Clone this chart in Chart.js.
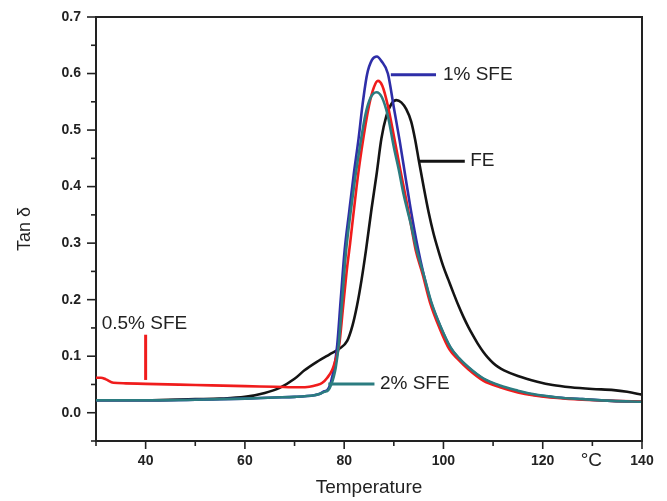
<!DOCTYPE html>
<html><head><meta charset="utf-8">
<script src="https://cdn.jsdelivr.net/npm/chart.js@4.4.1/dist/chart.umd.min.js"></script>
<style>html,body{margin:0;padding:0;background:#fff;}#wrap{width:667px;height:501px;}</style>
</head><body><div id="wrap"><canvas id="c" width="667" height="501"></canvas></div>
<script>
// ---- data (Temperature in °C, Tan δ) ----
const feTemp = [30,40,50,55,60,64,67,70,72,74.5,77,79,80.6,81.7,82.6,83.5,84.4,85.5,86.5,87.5,88.5,89.5,90.5,91.5,92.5,93.5,94.3,95,96,97,98,99,100,101,102,103,104,105,106,107,108,109,110,111,112.2,115,118.9,122,125.6,130,134.3,137,140];
const feTan  = [0.022,0.022,0.024,0.025,0.028,0.035,0.044,0.060,0.075,0.090,0.103,0.113,0.127,0.155,0.190,0.235,0.288,0.360,0.420,0.485,0.525,0.546,0.553,0.549,0.537,0.515,0.483,0.448,0.400,0.355,0.317,0.286,0.258,0.235,0.212,0.190,0.170,0.152,0.136,0.121,0.108,0.097,0.088,0.081,0.075,0.065,0.055,0.049,0.045,0.042,0.040,0.037,0.032];

const sfe05Temp = [30,31,32,33.5,36,40,50,60,66,71,73,74.5,75.6,76.6,77.6,78.3,79,79.7,80.5,81.2,82.5,83.5,85,86,86.8,87.7,88.8,90,91.3,92.2,93.3,94.4,95.8,97.3,99.2,101.2,103,105,108,111.4,115,118,123,128,134,140];
const sfe05Tan  = [0.062,0.062,0.059,0.053,0.052,0.051,0.049,0.047,0.046,0.045,0.046,0.049,0.053,0.062,0.076,0.095,0.120,0.180,0.250,0.300,0.400,0.465,0.543,0.576,0.587,0.578,0.543,0.490,0.430,0.390,0.340,0.288,0.245,0.195,0.150,0.112,0.094,0.077,0.057,0.045,0.036,0.031,0.026,0.023,0.021,0.020];

const sfe1Temp = [30,40,50,60,66,70,74,75,76,76.6,77.2,77.6,78,78.6,79.3,80.1,81,81.9,82.9,83.7,84.6,85.6,86.6,87.5,88.8,90,91.2,92.2,93.4,94.8,96,97.5,99.4,101.4,103,105,108,111.4,115,118,123,128,134,140];
const sfe1Tan  = [0.022,0.022,0.023,0.025,0.027,0.028,0.031,0.033,0.038,0.040,0.050,0.064,0.080,0.120,0.200,0.288,0.355,0.420,0.485,0.545,0.598,0.624,0.630,0.622,0.600,0.540,0.480,0.425,0.360,0.293,0.245,0.195,0.152,0.115,0.097,0.080,0.060,0.047,0.038,0.032,0.027,0.024,0.021,0.0195];

const sfe2Temp = [30,40,50,60,66,70,74,75,76,76.8,77.4,77.9,78.3,78.9,79.6,80.4,81.3,82.2,83.3,84.3,85.3,86.5,87.6,88.8,90,91,92,93.4,94.6,96,97.5,99.4,101.4,103,105,108,111.4,115,118,123,128,134,140];
const sfe2Tan  = [0.022,0.022,0.023,0.025,0.027,0.028,0.031,0.033,0.037,0.040,0.050,0.064,0.080,0.120,0.200,0.288,0.355,0.415,0.478,0.528,0.557,0.567,0.558,0.525,0.470,0.430,0.385,0.335,0.288,0.245,0.197,0.153,0.116,0.098,0.081,0.061,0.048,0.039,0.033,0.027,0.024,0.021,0.0195];

const seriesNames = ['FE','0.5% SFE','1% SFE','2% SFE'];
const xTickValues = [40,60,80,100,120,140];
const yTickValues = [0.0,0.1,0.2,0.3,0.4,0.5,0.6,0.7];

// ---- styling / annotation layout (data units) ----
const COLORS = {fe:'#141414', s05:'#f01c1c', s1:'#2e2ea8', s2:'#2b7c80'};
const notes = [
  {text:seriesNames[2], color:COLORS.s1, from:[89.4,0.598], to:[98.5,0.598], at:[99.9,0.598]},
  {text:seriesNames[0], color:COLORS.fe, from:[95.2,0.445], to:[104.3,0.445], at:[105.4,0.445]},
  {text:seriesNames[3], color:COLORS.s2, from:[76.8,0.051], to:[86.1,0.051], at:[87.2,0.051]},
  {text:seriesNames[1], color:COLORS.s05, from:[40,0.138], to:[40,0.058], at:[31.15,0.157]}
];
const FONT = '"Liberation Sans", Arial, sans-serif';
const INK = '#222';

const pts = (t, v) => t.map((x, i) => ({x, y: v[i]}));
const ds = (label, t, v, color, order) => ({
  label, data: pts(t, v), borderColor: color, backgroundColor: color,
  borderWidth: 2.6, pointRadius: 0, pointHoverRadius: 0,
  cubicInterpolationMode: 'monotone', fill: false, order
});

const decor = {
  id: 'decor',
  afterDraw(chart) {
    const {ctx, chartArea: a, scales: {x, y}} = chart;
    ctx.save();
    ctx.strokeStyle = INK; ctx.lineWidth = 2; ctx.lineCap = 'butt';
    // frame top & right
    ctx.beginPath();
    ctx.moveTo(a.left - 1, a.top); ctx.lineTo(a.right, a.top); ctx.lineTo(a.right, a.bottom + 1);
    ctx.stroke();
    // ticks
    ctx.lineWidth = 1.6;
    x.ticks.forEach(t => {
      const px = x.getPixelForValue(t.value);
      const major = xTickValues.includes(t.value);
      ctx.beginPath(); ctx.moveTo(px, a.bottom); ctx.lineTo(px, a.bottom + (major ? 8 : 5)); ctx.stroke();
    });
    y.ticks.forEach(t => {
      const py = y.getPixelForValue(t.value);
      const major = yTickValues.some(v => Math.abs(v - t.value) < 1e-6);
      ctx.beginPath(); ctx.moveTo(a.left, py); ctx.lineTo(a.left - (major ? 9 : 5), py); ctx.stroke();
    });
    // °C unit label in tick row
    ctx.fillStyle = INK; ctx.font = '19px ' + FONT;
    ctx.textAlign = 'center'; ctx.textBaseline = 'middle';
    ctx.fillText('°C', x.getPixelForValue(129.8), a.bottom + 20);
    // annotations
    notes.forEach(n => {
      ctx.strokeStyle = n.color; ctx.lineWidth = 3;
      ctx.beginPath();
      ctx.moveTo(x.getPixelForValue(n.from[0]), y.getPixelForValue(n.from[1]));
      ctx.lineTo(x.getPixelForValue(n.to[0]), y.getPixelForValue(n.to[1]));
      ctx.stroke();
      ctx.fillStyle = INK; ctx.font = '19px ' + FONT;
      ctx.textAlign = 'left'; ctx.textBaseline = 'middle';
      ctx.fillText(n.text, x.getPixelForValue(n.at[0]), y.getPixelForValue(n.at[1]));
    });
    ctx.restore();
  }
};

new Chart(document.getElementById('c'), {
  type: 'line',
  data: {
    datasets: [
      ds(seriesNames[0], feTemp, feTan, COLORS.fe, 3),
      ds(seriesNames[2], sfe1Temp, sfe1Tan, COLORS.s1, 2),
      ds(seriesNames[1], sfe05Temp, sfe05Tan, COLORS.s05, 1),
      ds(seriesNames[3], sfe2Temp, sfe2Tan, COLORS.s2, 0)
    ]
  },
  options: {
    responsive: false, animation: false, devicePixelRatio: 1,
    layout: {padding: {top: 17, right: 25, left: 0, bottom: 0}},
    plugins: {legend: {display: false}, tooltip: {enabled: false}},
    scales: {
      x: {
        type: 'linear', min: 30, max: 140,
        afterFit: s => { s.height = 60; },
        ticks: {stepSize: 10, autoSkip: false, maxRotation: 0, padding: 4, color: INK,
          font: {family: FONT, size: 14, weight: 'bold'},
          callback: v => xTickValues.includes(v) ? String(v) : ''},
        grid: {drawOnChartArea: false, drawTicks: true, tickLength: 8, tickColor: 'rgba(0,0,0,0)'},
        border: {display: true, color: INK, width: 2},
        title: {display: true, text: 'Temperature', color: INK, font: {family: FONT, size: 19}, padding: {top: 0, bottom: 2}}
      },
      y: {
        type: 'linear', min: -0.05, max: 0.7,
        afterFit: s => { s.width = 96; },
        ticks: {stepSize: 0.05, autoSkip: false, padding: 6, color: INK,
          font: {family: FONT, size: 14, weight: 'bold'},
          callback: v => { const m = yTickValues.find(t => Math.abs(t - v) < 1e-6); return m === undefined ? '' : m.toFixed(1); }},
        grid: {drawOnChartArea: false, drawTicks: true, tickLength: 9, tickColor: 'rgba(0,0,0,0)'},
        border: {display: true, color: INK, width: 2},
        title: {display: true, text: 'Tan δ', color: INK, font: {family: FONT, size: 18}, padding: {top: 14, bottom: 0}}
      }
    }
  },
  plugins: [decor]
});
</script>
</body></html>
